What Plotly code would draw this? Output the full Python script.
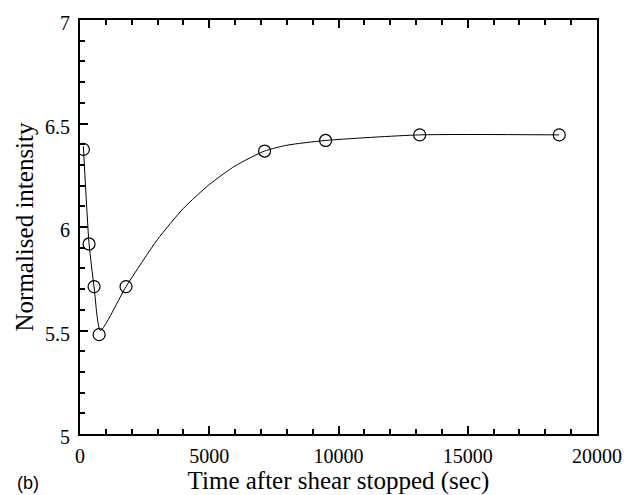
import plotly.graph_objects as go

# measured points
time_sec = [130, 350, 545, 740, 1780, 7140, 9500, 13140, 18540]
intensity = [6.375, 5.918, 5.712, 5.48, 5.712, 6.367, 6.418, 6.445, 6.445]

# guide curve
curve_time = [130, 350, 545, 790, 1780, 3000, 4000, 5000, 6000, 7140, 8000, 9500, 13140, 18540]
curve_int = [6.39, 5.92, 5.71, 5.50, 5.712, 5.94, 6.09, 6.205, 6.295, 6.367, 6.395, 6.418, 6.445, 6.445]

x_title = "Time after shear stopped (sec)"
y_title = "Normalised intensity"
panel_label = "(b)"

W, H = 624, 495
l, r, t, b = 80, 27, 20, 61
pw, ph = W - l - r, H - t - b

fig = go.Figure()
fig.add_trace(go.Scatter(
    x=curve_time, y=curve_int, mode="lines",
    line=dict(color="black", width=1, shape="spline", smoothing=0.6),
    showlegend=False, hoverinfo="skip",
))
fig.add_trace(go.Scatter(
    x=time_sec, y=intensity, mode="markers",
    marker=dict(symbol="circle-open", size=12, color="black", line=dict(width=1.2, color="black")),
    showlegend=False,
))

serif = "Liberation Serif, Times New Roman, serif"
fig.update_layout(
    width=W, height=H,
    margin=dict(l=l, r=r, t=t, b=b, autoexpand=False),
    paper_bgcolor="white", plot_bgcolor="white",
    font=dict(family=serif, color="black", size=20),
    xaxis=dict(
        range=[0, 20000], dtick=5000, tick0=0, tickformat="d",
        ticks="inside", ticklen=8, tickwidth=1.5, tickcolor="black",
        minor=dict(dtick=1000, ticks="inside", ticklen=5, tickwidth=1.5, tickcolor="black"),
        showline=True, linewidth=2, linecolor="black", mirror="ticks",
        showgrid=False, zeroline=False, automargin=False,
        tickfont=dict(family=serif, size=20), ticklabelstandoff=3,
        title=dict(text=x_title, font=dict(family=serif, size=25), standoff=0),
    ),
    yaxis=dict(
        range=[5, 7], dtick=0.5, tick0=5,
        ticks="inside", ticklen=8, tickwidth=1.5, tickcolor="black",
        minor=dict(dtick=0.1, ticks="inside", ticklen=5, tickwidth=1.5, tickcolor="black"),
        showline=True, linewidth=2, linecolor="black", mirror=True,
        showgrid=False, zeroline=False, automargin=False,
        tickfont=dict(family=serif, size=20), ticklabelstandoff=4, ticklabelshift=3,
        title=dict(text=y_title, font=dict(family=serif, size=25), standoff=4),
    ),
    annotations=[dict(
        text=panel_label, x=(28 - l) / pw, y=(H - b - 483) / ph,
        xref="paper", yref="paper", xanchor="center", yanchor="middle",
        showarrow=False, font=dict(family="Liberation Sans, Arial, sans-serif", size=18),
    )],
)
fig.write_html("out.html")
